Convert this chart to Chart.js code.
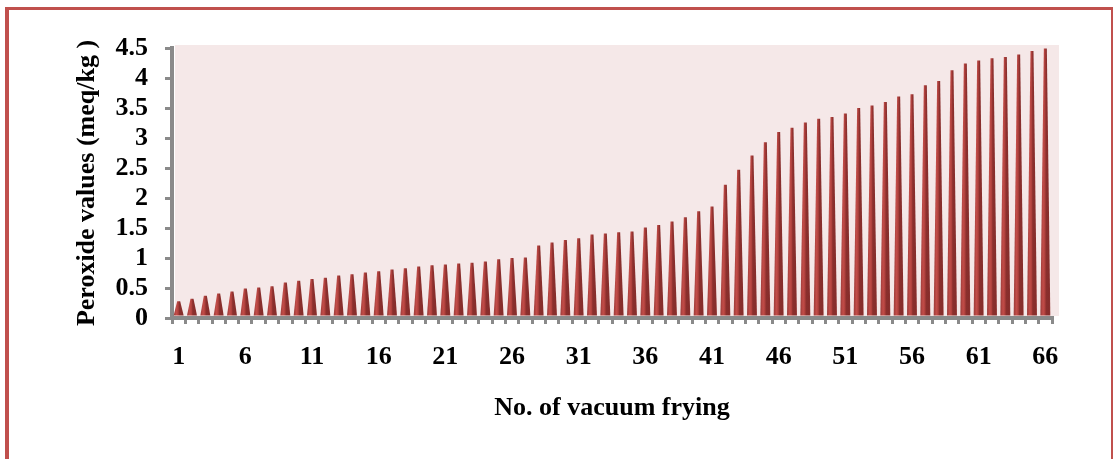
<!DOCTYPE html>
<html>
<head>
<meta charset="utf-8">
<script src="https://cdn.jsdelivr.net/npm/chart.js@4/dist/chart.umd.min.js"></script>
<style>
  html, body { margin: 0; padding: 0; background: #ffffff; overflow: hidden; }
  #wrap { position: relative; width: 1113px; height: 459px; }
  #c { position: absolute; left: 0; top: 0; }
  #frame { position: absolute; left: 5px; top: 7px; width: 1108px; height: 520px; box-sizing: border-box;
           border-left: 4px solid #c0504d; border-top: 3px solid #c0504d; border-right: 2px solid #c0504d;
           pointer-events: none; }
</style>
</head>
<body>
<div id="wrap">
  <canvas id="c" width="1113" height="459"></canvas>
  <div id="frame"></div>
</div>
<script>
// ---- data ----
const categories = [
  "1","2","3","4","5","6","7","8","9","10",
  "11","12","13","14","15","16","17","18","19","20",
  "21","22","23","24","25","26","27","28","29","30",
  "31","32","33","34","35","36","37","38","39","40",
  "41","42","43","44","45","46","47","48","49","50",
  "51","52","53","54","55","56","57","58","59","60",
  "61","62","63","64","65","66"
];
const peroxideValues = [
  0.28, 0.32, 0.37, 0.41, 0.44, 0.49, 0.51, 0.53, 0.59, 0.62,
  0.65, 0.67, 0.71, 0.73, 0.76, 0.78, 0.81, 0.83, 0.86, 0.88,
  0.89, 0.91, 0.92, 0.94, 0.98, 1.00, 1.01, 1.21, 1.26, 1.30,
  1.33, 1.39, 1.41, 1.43, 1.44, 1.51, 1.55, 1.61, 1.68, 1.78,
  1.86, 2.22, 2.47, 2.71, 2.93, 3.10, 3.17, 3.26, 3.32, 3.35,
  3.41, 3.50, 3.54, 3.60, 3.69, 3.73, 3.88, 3.95, 4.13, 4.24,
  4.29, 4.33, 4.35, 4.39, 4.45, 4.49
];
const shownXTicks = ["1","6","11","16","21","26","31","36","41","46","51","56","61","66"];
const yTickValues = [0, 0.5, 1, 1.5, 2, 2.5, 3, 3.5, 4, 4.5];
const yTitle = "Peroxide values (meq/kg )";
const xTitle = "No. of vacuum frying";

// ---- styling ----
const FONT = { family: "'Liberation Serif', 'Times New Roman', serif", size: 26, weight: 'bold' };
const AXIS_GRAY = '#8a8a8a';

const wallPlugin = {
  id: 'wall',
  beforeDatasetsDraw(chart) {
    const { ctx, chartArea: a } = chart;
    ctx.save();
    ctx.fillStyle = '#f5e8e8';
    ctx.fillRect(a.left + 3, a.top - 3, a.width + 4, a.height + 1);
    ctx.restore();
  }
};

const conePlugin = {
  id: 'cones',
  afterDatasetsDraw(chart) {
    const { ctx } = chart;
    const meta = chart.getDatasetMeta(0);
    ctx.save();
    meta.data.forEach((bar) => {
      const p = bar.getProps(['x', 'y', 'base', 'width'], true);
      const half = p.width / 2;
      const base = p.base - 1;
      const g = ctx.createLinearGradient(p.x - half, 0, p.x + half, 0);
      g.addColorStop(0, '#9a3a38');
      g.addColorStop(0.28, '#c24d49');
      g.addColorStop(0.45, '#b0413d');
      g.addColorStop(0.58, '#8b2f2d');
      g.addColorStop(0.9, '#862d2b');
      g.addColorStop(1, '#9c403e');
      ctx.beginPath();
      ctx.moveTo(p.x - half, base);
      ctx.lineTo(p.x - 1.5, p.y);
      ctx.lineTo(p.x + 1.5, p.y);
      ctx.lineTo(p.x + half, base);
      ctx.closePath();
      ctx.fillStyle = g;
      ctx.fill();
    });
    ctx.restore();
  }
};

new Chart(document.getElementById('c'), {
  type: 'bar',
  data: {
    labels: categories,
    datasets: [{
      data: peroxideValues,
      backgroundColor: 'rgba(0,0,0,0)',
      borderWidth: 0,
      barPercentage: 0.75,
      categoryPercentage: 1.0
    }]
  },
  options: {
    responsive: false,
    animation: false,
    devicePixelRatio: 1,
    layout: { padding: { top: 48, right: 61, left: 0, bottom: 0 } },
    plugins: { legend: { display: false }, tooltip: { enabled: false } },
    scales: {
      x: {
        offset: true,
        grid: { display: true, offset: true, drawOnChartArea: false, drawTicks: true,
                tickLength: 6, color: AXIS_GRAY, lineWidth: 3 },
        border: { display: true, color: AXIS_GRAY, width: 4 },
        ticks: {
          autoSkip: false, maxRotation: 0, minRotation: 0, padding: 18,
          color: '#000', font: FONT,
          callback: function (v, i) {
            const lab = categories[i];
            return shownXTicks.includes(lab) ? lab : '';
          }
        },
        title: { display: true, text: xTitle, color: '#000', font: FONT, padding: { top: 0, bottom: 35 } },
        afterFit(scale) { scale.height = 141; }
      },
      y: {
        min: 0, max: 4.5,
        afterBuildTicks(scale) { scale.ticks = yTickValues.map(v => ({ value: v })); },
        grid: { display: true, drawOnChartArea: false, drawTicks: true, tickLength: 7,
                color: AXIS_GRAY, lineWidth: 3 },
        border: { display: true, color: AXIS_GRAY, width: 4 },
        ticks: { autoSkip: false, padding: 17, color: '#000', font: FONT,
                 callback: v => String(v) },
        title: { display: true, text: yTitle, color: '#000', font: FONT, padding: { top: 72, bottom: 0 } },
        afterFit(scale) { scale.width = 172; }
      }
    }
  },
  plugins: [wallPlugin, conePlugin]
});
</script>
</body>
</html>
